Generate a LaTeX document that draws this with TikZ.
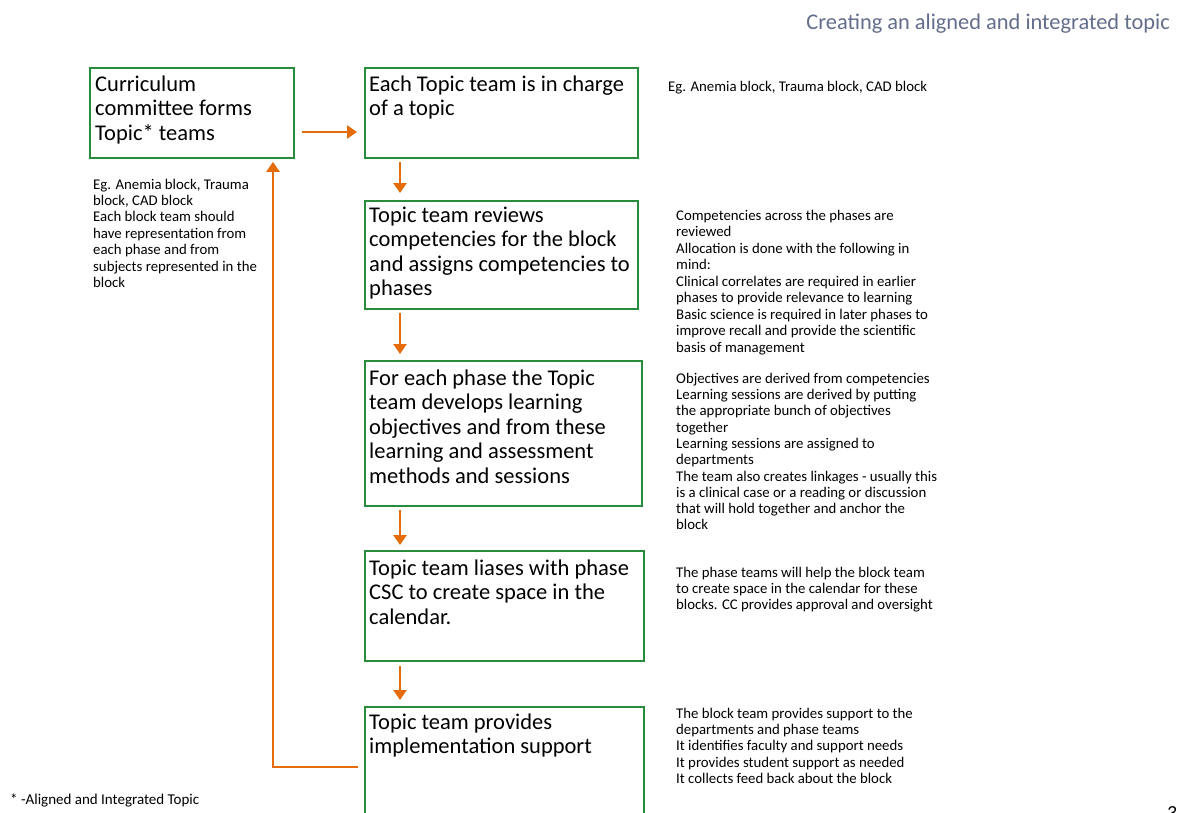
\documentclass[tikz,border=0pt]{standalone}
\usepackage{fontspec}
\setmainfont{Carlito}
\usetikzlibrary{arrows.meta,calc}
\definecolor{boxgreen}{RGB}{40,140,60}
\definecolor{arrorange}{RGB}{228,108,10}
\definecolor{titleblue}{RGB}{100,110,140}
\begin{document}
\begin{tikzpicture}[x=1pt,y=-1pt,
  stepbox/.style={draw=boxgreen,line width=1.8pt,rectangle,inner sep=0pt,anchor=north west},
  boxtext/.style={anchor=north west,align=left,inner sep=0pt,font=\fontsize{22.5}{24.5}\selectfont},
  note/.style={anchor=north west,align=left,inner sep=0pt,font=\fontsize{14.8}{16.4}\selectfont},
  arr/.style={draw=arrorange,line width=2.5pt,-{Triangle[width=13pt,length=10pt]}}]
\clip (0,0) rectangle (1182,812);
\fill[white] (0,0) rectangle (1182,812);

% title
\node[anchor=base east,inner sep=0pt,text=titleblue,font=\fontsize{22.4}{26}\selectfont] (title) at (1170,29) {Creating an aligned and integrated topic};

% boxes
\node[stepbox,minimum width=204pt,minimum height=90pt] (b1) at (89,67) {};
\node[stepbox,minimum width=273pt,minimum height=90pt] (b2) at (364,67) {};
\node[stepbox,minimum width=273pt,minimum height=108pt] (b3) at (364,200) {};
\node[stepbox,minimum width=277pt,minimum height=145pt] (b4) at (364,360) {};
\node[stepbox,minimum width=279pt,minimum height=110pt] (b5) at (364,550) {};
\node[stepbox,minimum width=279pt,minimum height=120pt] (b6) at (364,706) {};

% box texts
\node[boxtext] (t1) at (95,74) {\strut Curriculum\\committee forms\\Topic* teams};
\node[boxtext] (t2) at (369,74) {\strut Each Topic team is in charge\\of a topic};
\node[boxtext] (t3) at (369,205) {\strut Topic team reviews\\competencies for the block\\and assigns competencies to\\phases};
\node[boxtext] (t4) at (369,368) {\strut For each phase the Topic\\team develops learning\\objectives and from these\\learning and assessment\\methods and sessions};
\node[boxtext] (t5) at (369,558) {\strut Topic team liases with phase\\CSC to create space in the\\calendar.};
\node[boxtext] (t6) at (369,712) {\strut Topic team provides\\implementation support};

% notes
\node[note] (n1) at (93,177.5) {\strut Eg. Anemia block, Trauma\\block, CAD block\\Each block team should\\have representation from\\each phase and from\\subjects represented in the\\block};
\node[note] (n2) at (668,79.5) {\strut Eg. Anemia block, Trauma block, CAD block};
\node[note,font=\fontsize{14.8}{16.5}\selectfont] (n3) at (676,208.5) {\strut Competencies across the phases are\\reviewed\\Allocation is done with the following in\\mind:\\Clinical correlates are required in earlier\\phases to provide relevance to learning\\Basic science is required in later phases to\\improve recall and provide the scientific\\basis of management};
\node[note,font=\fontsize{14.8}{16.3}\selectfont] (n4) at (676,371.6) {\strut Objectives are derived from competencies\\Learning sessions are derived by putting\\the appropriate bunch of objectives\\together\\Learning sessions are assigned to\\departments\\The team also creates linkages - usually this\\is a clinical case or a reading or discussion\\that will hold together and anchor the\\block};
\node[note] (n5) at (676,565.5) {\strut The phase teams will help the block team\\to create space in the calendar for these\\blocks. CC provides approval and oversight};
\node[note] (n6) at (676,706.5) {\strut The block team provides support to the\\departments and phase teams\\It identifies faculty and support needs\\It provides student support as needed\\It collects feed back about the block};

% footnote and page number
\node[anchor=base west,inner sep=0pt,font=\fontsize{15}{18}\selectfont] (foot) at (10,804) {* -Aligned and Integrated Topic};
\node[anchor=base west,inner sep=0pt,font=\fontsize{20}{24}\selectfont] (pnum) at (1167,819) {3};

% connectors
\draw[arr] ($(b1.north east)+(7,65)$) -- ($(b2.north west)+(-7,65)$);
\draw[arr] ($(b2.south west)+(36,3)$) -- ($(b3.north west)+(36,-7)$);
\draw[arr] ($(b3.south west)+(36,3)$) -- ($(b4.north west)+(36,-6)$);
\draw[arr] ($(b4.south west)+(36,3)$) -- ($(b5.north west)+(36,-5)$);
\draw[arr] ($(b5.south west)+(36,4)$) -- ($(b6.north west)+(36,-6)$);
\draw[arr] ($(b6.west)+(-6,0)$) -| ($(b1.south west)+(184,3)$);
\end{tikzpicture}
\end{document}
